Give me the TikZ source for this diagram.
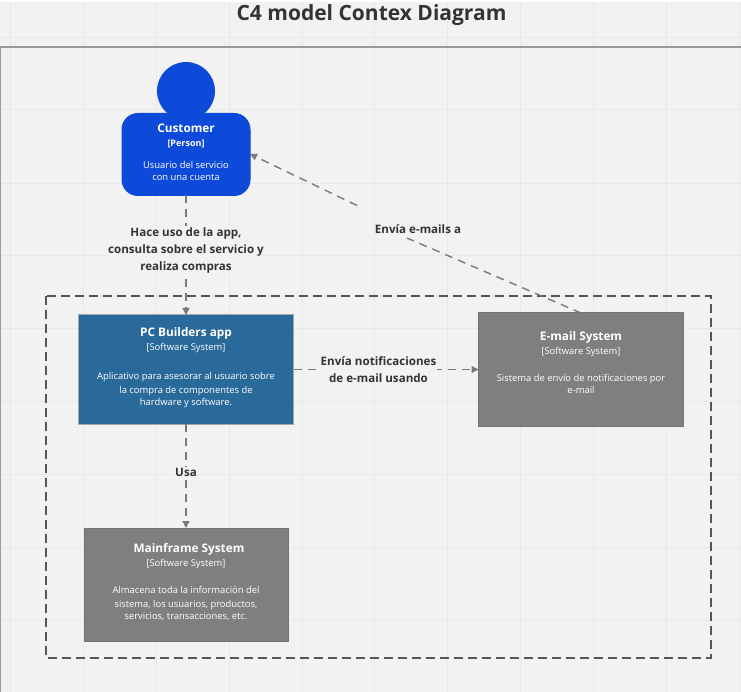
\documentclass[tikz,border=0pt]{standalone}
\usepackage{fontspec}
\setmainfont{Open Sans}
\usetikzlibrary{arrows.meta}
\definecolor{bgc}{HTML}{F2F2F2}
\definecolor{gridc}{HTML}{E8E8E8}
\definecolor{framec}{HTML}{9A9A9A}
\definecolor{bluep}{HTML}{0E4AD9}
\definecolor{blueapp}{HTML}{2A6A9B}
\definecolor{grayext}{HTML}{7F7F7F}
\definecolor{connc}{HTML}{7A7A7A}
\definecolor{boundc}{HTML}{555555}
\definecolor{labelc}{HTML}{333333}
\newcommand{\boxtext}[4]{\parbox[c][#2pt][t]{#1pt}{\centering\vspace*{#3pt}\par #4\par}}
\newcommand{\ttl}[1]{{\fontsize{11.8}{14}\selectfont\bfseries #1}}
\newcommand{\tag}[1]{{\fontsize{9.4}{11}\selectfont #1}}
\newcommand{\dsc}[1]{{\fontsize{9.4}{14}\selectfont #1}}
\tikzset{
  x=1pt,y=-1pt,
  gridline/.style={gridc,line width=0.8pt},
  sysbox/.style={draw=#1,rectangle,inner sep=0pt,outer sep=0pt,text=white,line width=1pt},
  conn/.style={draw=connc,line width=1.4pt,dash pattern=on 8pt off 6pt,-{Triangle[length=7pt,width=7pt,fill=connc]}},
  boundary/.style={draw=boundc,line width=1.8pt,dash pattern=on 9pt off 5pt},
  lbl/.style={font=\fontsize{11.6}{17}\selectfont\bfseries,text=labelc,align=center,fill=bgc,inner sep=1pt}
}
\begin{document}
\begin{tikzpicture}
\useasboundingbox (0,0) rectangle (741,692);
\fill[bgc] (0,2) rectangle (741,692);
\foreach \gx in {10,83,156,229,302,374,447,520,593,666,739}
  \draw[gridline] (\gx,2) -- (\gx,692);
\foreach \gy in {37,109,183,255,328,401,474,547,620}
  \draw[gridline] (0,\gy) -- (741,\gy);
\draw[framec,line width=1.8pt] (0.5,692) -- (0.5,47) -- (741,47);
\node[font=\fontsize{21}{24}\selectfont\bfseries,text=labelc,inner sep=0pt] (title) at (371.5,15) {C4 model Contex Diagram};
\draw[boundary] (46,296) rectangle (711,658);
\node[fill=bluep,circle,inner sep=0pt,minimum size=58pt] (head) at (186,91) {};
\node[sysbox=bluep,fill=bluep,rounded corners=16pt] (customer) at (186,154.5) {\boxtext{128}{82}{10}{\ttl{Customer}\\[2pt]{\fontsize{9}{11}\selectfont\bfseries [Person]}\\[8.5pt]\dsc{Usuario del servicio\\con una cuenta}}};
\node[sysbox=gray!70,fill=blueapp] (app) at (186,369.5) {\boxtext{215}{109}{13}{\ttl{PC Builders app}\\[2pt]\tag{[Software System]}\\[15pt]\dsc{Aplicativo para asesorar al usuario sobre\\la compra de componentes de\\hardware y software.}}};
\node[sysbox=black!55,fill=grayext] (email) at (581,369.5) {\boxtext{205}{113}{19}{\ttl{E-mail System}\\[2pt]\tag{[Software System]}\\[13pt]\dsc{Sistema de envío de notificaciones por\\e-mail}}};
\node[sysbox=black!55,fill=grayext] (main) at (186,584.5) {\boxtext{204}{113}{15.5}{\ttl{\hspace*{6pt}Mainframe System}\\[2pt]\tag{[Software System]}\\[13pt]\dsc{Almacena toda la información del\\sistema, los usuarios, productos,\\servicios, transacciones, etc.}}};
\coordinate (gapa) at (357,205.5);
\coordinate (gapb) at (407,238);
\draw[conn] (customer.south) -- (app.north);
\draw[conn] (app.east) -- (email.west);
\draw[conn] (app.south) -- (main.north);
\draw[conn] (email.north) -- (gapb) (gapa) -- (customer.east |- 0,154);
\node[lbl] (l1) at (186,250) {Hace uso de la app,\\consulta sobre el servicio y\\realiza compras};
\node[lbl] (l2) at (378.5,370) {Envía notificaciones\\de e-mail usando};
\node[lbl] (l3) at (186,472) {Usa};
\node[lbl,fill=none] (l4) at (418,229) {Envía e-mails a};
\end{tikzpicture}
\end{document}
